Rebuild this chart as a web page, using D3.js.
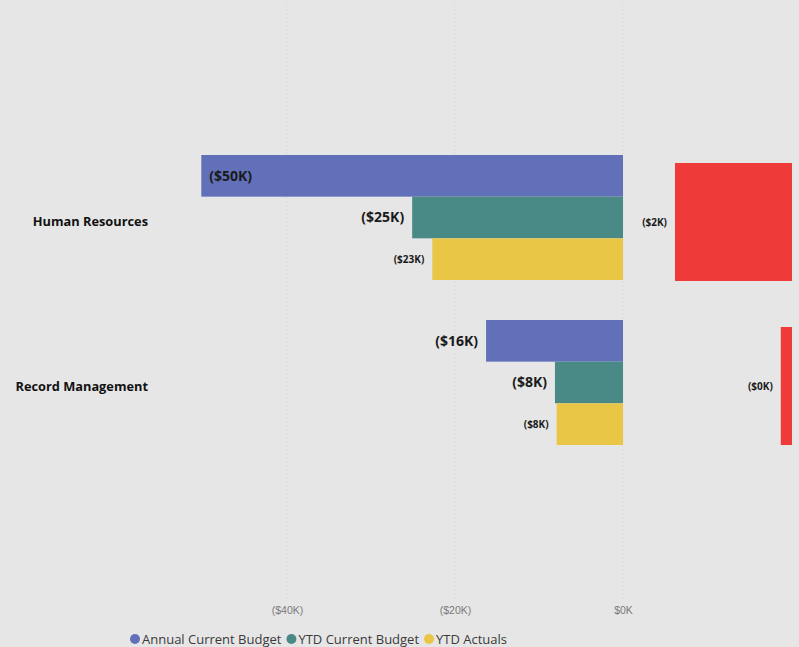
<!DOCTYPE html>
<html>
<head>
<meta charset="utf-8">
<script src="https://cdn.jsdelivr.net/npm/d3@7"></script>
<style>
  body { margin: 0; background: #e6e6e6; }
  svg { display: block; font-family: "Segoe UI", "Open Sans", "Noto Sans", sans-serif; }
</style>
</head>
<body>
<svg width="799" height="647"></svg>
<script>
var svg = d3.select("svg");

// Data (values in dollars, negative)
var categories = ["Human Resources", "Record Management"];
var seriesNames = ["Annual Current Budget", "YTD Current Budget", "YTD Actuals"];
var annualBudget = [-50200, -16300];
var ytdBudget = [-25100, -8100];
var ytdActuals = [-22700, -7900];
var variance = [-2400, -230];
var axisTicks = [-40000, -20000, 0];

var colors = ["#6170b9", "#4a8a86", "#eac646"];
var labelSizes = [14, 14, 10];

var fmt = function(v) {
    var k = Math.round(Math.abs(v) / 1000);
    return v < 0 ? "($" + k + "K)" : "$" + k + "K";
};

svg.append("rect").attr("width", 799).attr("height", 647).attr("fill", "#e6e6e6");

// Scales
var x = d3.scaleLinear()
    .domain([-60000, 0])
    .range([119, 623]);

var y = d3.scaleBand()
    .domain(categories)
    .range([135, 465])
    .paddingInner(40 / 165)
    .paddingOuter(20 / 165);

var ySub = d3.scaleBand()
    .domain(seriesNames)
    .range([0, y.bandwidth()]);

// Gridlines
svg.append("g").selectAll("line")
    .data(axisTicks)
    .enter()
    .append("line")
    .attr("x1", function(d) { return x(d); })
    .attr("x2", function(d) { return x(d); })
    .attr("y1", 5)
    .attr("y2", 600)
    .attr("stroke", "#d2d2d2")
    .attr("stroke-dasharray", "1,3");

// Axis tick labels
var xAxis = d3.axisBottom(x).tickValues(axisTicks).tickFormat(fmt).tickSize(0).tickPadding(0);
var axis = svg.append("g").attr("transform", "translate(0,607)").call(xAxis);
axis.select(".domain").remove();
axis.selectAll("text")
    .attr("fill", "#7a7a7a")
    .style("font-size", "10.5px")
    .attr("dy", "0.71em");

// Category labels
svg.append("g").selectAll("text")
    .data(categories)
    .enter()
    .append("text")
    .attr("x", 148)
    .attr("y", function(d) { return y(d) + y.bandwidth() / 2 + 4; })
    .attr("dy", "0.32em")
    .attr("text-anchor", "end")
    .attr("fill", "#111")
    .style("font-size", "12.8px")
    .style("font-weight", "bold")
    .text(function(d) { return d; });

// Bars
var seriesData = [annualBudget, ytdBudget, ytdActuals];
seriesNames.forEach(function(name, s) {
    var g = svg.append("g");
    g.selectAll("rect")
        .data(seriesData[s])
        .enter()
        .append("rect")
        .attr("x", function(d) { return x(d); })
        .attr("y", function(d, i) { return y(categories[i]) + ySub(name); })
        .attr("width", function(d) { return x(0) - x(d); })
        .attr("height", ySub.bandwidth())
        .attr("fill", colors[s]);

    g.selectAll("text")
        .data(seriesData[s])
        .enter()
        .append("text")
        .attr("y", function(d, i) { return y(categories[i]) + ySub(name) + ySub.bandwidth() / 2; })
        .attr("dy", "0.35em")
        .attr("fill", "#1a1a1a")
        .style("font-size", labelSizes[s] + "px")
        .style("font-weight", "bold")
        .text(function(d) { return fmt(d); })
        .each(function(d) {
            var w = this.getComputedTextLength();
            var sel = d3.select(this);
            if (x(d) - 8 - w < 160) {
                sel.attr("x", x(d) + 8).attr("text-anchor", "start");
            } else {
                sel.attr("x", x(d) - 8).attr("text-anchor", "end");
            }
        });
});

// Variance bars (right)
var xr = d3.scaleLinear()
    .domain([d3.min(variance), 0])
    .range([675, 792]);

var yr = d3.scaleBand()
    .domain(categories)
    .range([140, 468])
    .paddingInner(46 / 164)
    .paddingOuter(23 / 164);

var vg = svg.append("g");
vg.selectAll("rect")
    .data(variance)
    .enter()
    .append("rect")
    .attr("x", function(d) { return xr(d); })
    .attr("y", function(d, i) { return yr(categories[i]); })
    .attr("width", function(d) { return xr(0) - xr(d); })
    .attr("height", yr.bandwidth())
    .attr("fill", "#ee3b3a");

vg.selectAll("text")
    .data(variance)
    .enter()
    .append("text")
    .attr("x", function(d) { return xr(d) - 8; })
    .attr("y", function(d, i) { return yr(categories[i]) + yr.bandwidth() / 2; })
    .attr("dy", "0.35em")
    .attr("text-anchor", "end")
    .attr("fill", "#1a1a1a")
    .style("font-size", "10px")
    .style("font-weight", "bold")
    .text(function(d) { return fmt(d); });

// Legend
var legend = svg.append("g").attr("transform", "translate(135,639)");
var lx = 0;
seriesNames.forEach(function(name, s) {
    legend.append("circle")
        .attr("cx", lx)
        .attr("cy", 0)
        .attr("r", 5)
        .attr("fill", colors[s]);
    var t = legend.append("text")
        .attr("x", lx + 7)
        .attr("y", 0)
        .attr("dy", "0.35em")
        .attr("fill", "#3a3a3a")
        .style("font-size", "13px")
        .text(name);
    lx += 7 + t.node().getComputedTextLength() + 10;
});
</script>
</body>
</html>
